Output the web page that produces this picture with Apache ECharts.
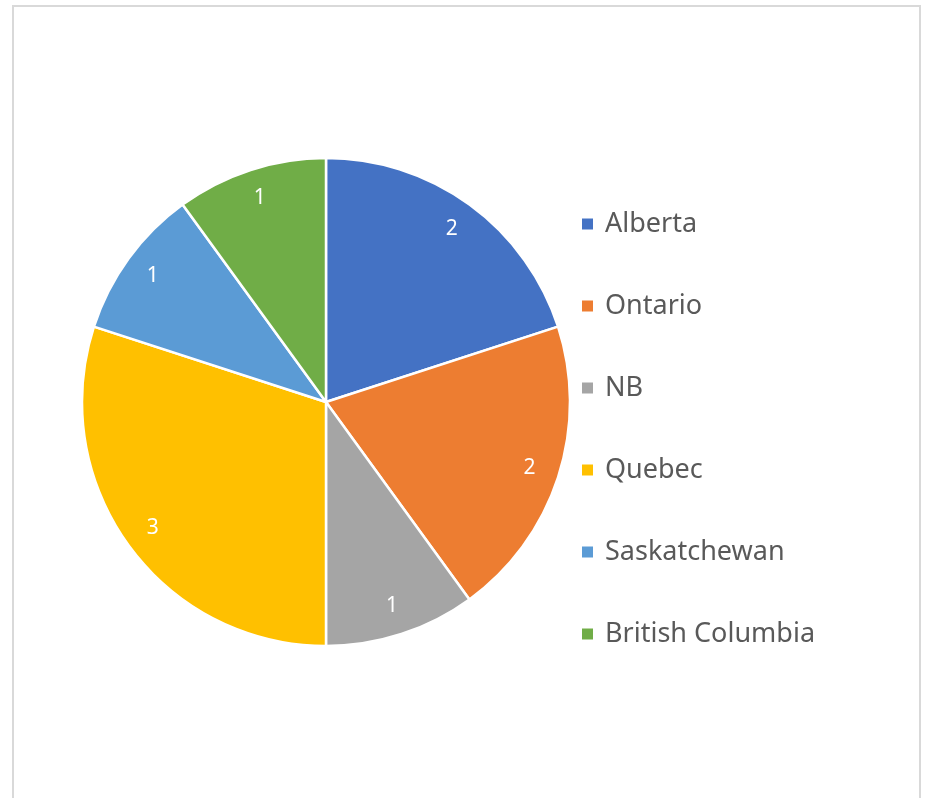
<!DOCTYPE html>
<html>
<head>
<meta charset="utf-8">
<script src="https://cdn.jsdelivr.net/npm/echarts@6/dist/echarts.min.js"></script>
<style>
html,body{margin:0;padding:0;background:#fff;}
#c{width:925px;height:798px;}
</style>
</head>
<body>
<div id="c"></div>
<script>
const categories = ['Alberta', 'Ontario', 'NB', 'Quebec', 'Saskatchewan', 'British Columbia'];
const values = [2, 2, 1, 3, 1, 1];
const colors = ['#4472C4', '#ED7D31', '#A5A5A5', '#FFC000', '#5B9BD5', '#70AD47'];

const data = categories.map((n, i) => ({ name: n, value: values[i] }));

const chart = echarts.init(document.getElementById('c'));
chart.setOption({
  animation: false,
  color: colors,
  graphic: [{
    type: 'rect',
    shape: { x: 13, y: 6, width: 907, height: 820 },
    style: { fill: 'none', stroke: '#d9d9d9', lineWidth: 2 },
    silent: true
  }],
  legend: {
    orient: 'vertical',
    left: 575,
    top: 204,
    icon: 'rect',
    itemWidth: 13,
    itemHeight: 13,
    itemGap: 52,
    data: categories,
    textStyle: {
      fontFamily: 'Noto Sans',
      fontSize: 27,
      color: '#595959',
      lineHeight: 30,
      padding: [0, 0, 0, 6]
    }
  },
  series: [{
    type: 'pie',
    center: [326, 402],
    radius: [0, 244],
    startAngle: 90,
    clockwise: true,
    data: data,
    label: { show: false },
    labelLine: { show: false },
    itemStyle: { borderColor: '#fff', borderWidth: 2.5 },
    emphasis: { disabled: true }
  }, {
    type: 'pie',
    center: [326, 402],
    radius: [196, 226],
    startAngle: 90,
    clockwise: true,
    data: data,
    silent: true,
    itemStyle: { color: 'rgba(0,0,0,0)' },
    label: {
      show: true,
      position: 'inside',
      formatter: '{c}',
      color: '#fff',
      fontFamily: 'Noto Sans',
      fontSize: 21
    },
    labelLine: { show: false },
    emphasis: { disabled: true }
  }]
});
</script>
</body>
</html>
